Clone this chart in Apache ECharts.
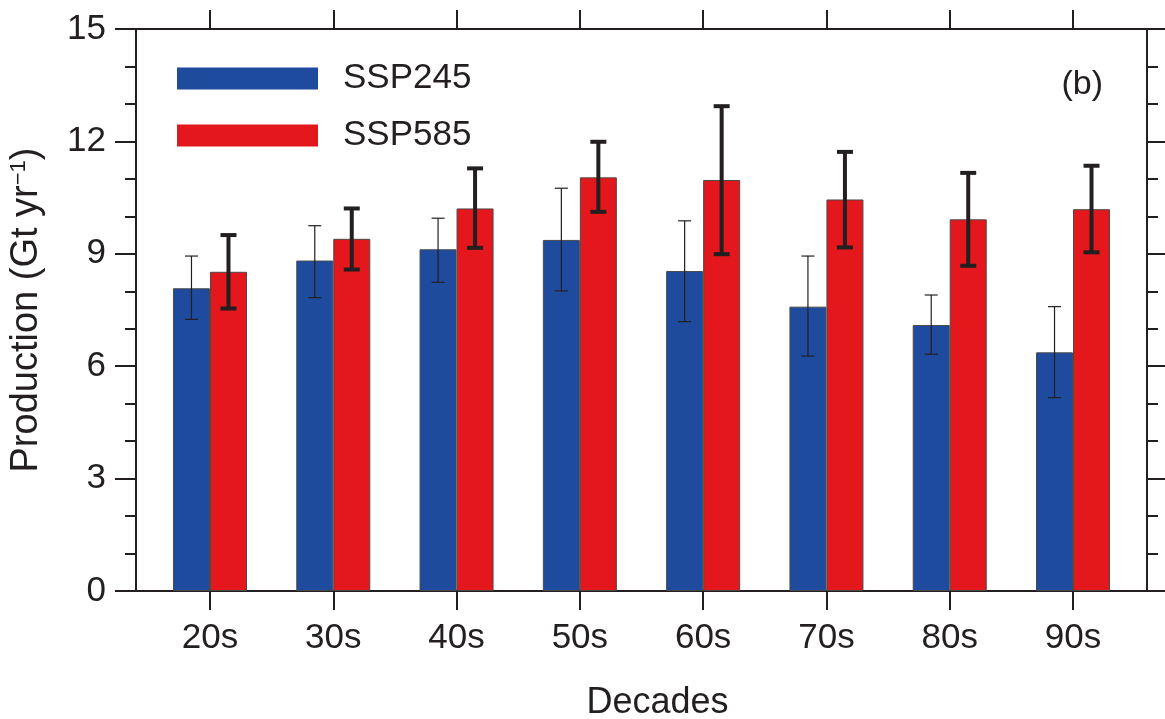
<!DOCTYPE html>
<html>
<head>
    <meta charset="utf-8">
    <title>Production by decade</title>
    <script src="https://cdn.jsdelivr.net/npm/echarts@6/dist/echarts.min.js"></script>
    <style>
        html, body { margin: 0; padding: 0; background: #fff; }
        #main { width: 1165px; height: 719px; }
    </style>
</head>
<body>
    <div id="main"></div>
    <script type="text/javascript">
        // data
        var decades = ['20s', '30s', '40s', '50s', '60s', '70s', '80s', '90s'];
        var ssp245 = [8.08, 8.82, 9.12, 9.37, 8.54, 7.59, 7.10, 6.37];
        var ssp245Low = [7.25, 7.83, 8.24, 8.01, 7.19, 6.27, 6.32, 5.16];
        var ssp245High = [8.94, 9.75, 9.95, 10.75, 9.88, 8.94, 7.90, 7.59];
        var ssp585 = [8.52, 9.40, 10.21, 11.04, 10.97, 10.45, 9.92, 10.19];
        var ssp585Low = [7.54, 8.58, 9.16, 10.12, 8.99, 9.17, 8.68, 9.04];
        var ssp585High = [9.50, 10.21, 11.28, 11.99, 12.94, 11.72, 11.16, 11.35];

        var positions = decades.map(function (d, i) { return i + 1; });
        var ink = '#231f20';
        var font = 'Liberation Sans, Arial, sans-serif';
        var barW = 37;

        function pairs(vals) {
            return vals.map(function (v, i) { return [positions[i], v]; });
        }
        function errData(low, high) {
            return low.map(function (l, i) { return [positions[i], l, high[i]]; });
        }
        function errRender(offset, lw, cap) {
            return function (params, api) {
                var top = api.coord([api.value(0), api.value(2)]);
                var bot = api.coord([api.value(0), api.value(1)]);
                var x = top[0] + offset;
                var st = { stroke: ink, lineWidth: lw };
                return {
                    type: 'group',
                    children: [
                        { type: 'line', shape: { x1: x, y1: top[1], x2: x, y2: bot[1] }, style: st },
                        { type: 'line', shape: { x1: x - cap / 2, y1: top[1], x2: x + cap / 2, y2: top[1] }, style: st },
                        { type: 'line', shape: { x1: x - cap / 2, y1: bot[1], x2: x + cap / 2, y2: bot[1] }, style: st }
                    ]
                };
            };
        }

        var xCommon = {
            type: 'value',
            min: 0.4,
            max: 8.6,
            splitLine: { show: false },
            axisLine: { show: true, onZero: false, lineStyle: { color: ink, width: 2 } },
            axisTick: { show: true, customValues: positions, length: 19, lineStyle: { color: ink, width: 2 } }
        };
        var yCommon = {
            type: 'value',
            min: 0,
            max: 15,
            interval: 3,
            splitLine: { show: false },
            axisLine: { show: true, onZero: false, lineStyle: { color: ink, width: 2 } },
            axisTick: { show: true, length: 21, lineStyle: { color: ink, width: 2 } },
            minorTick: { show: true, splitNumber: 3, length: 11, lineStyle: { color: ink, width: 2 } }
        };

        var myChart = echarts.init(document.getElementById('main'));

        var option = {
            backgroundColor: '#fff',
            animation: false,
            textStyle: { fontFamily: font, color: ink },
            grid: { left: 136, right: 18, top: 29, bottom: 128, outerBoundsMode: 'none', containLabel: false },
            title: {
                text: '(b)',
                right: 57,
                top: 63,
                textStyle: { fontFamily: font, fontSize: 34, fontWeight: 'normal', color: ink }
            },
            legend: {
                left: 172,
                top: 56,
                orient: 'vertical',
                itemWidth: 141,
                itemHeight: 22,
                itemGap: 22,
                icon: 'rect',
                data: ['SSP245', 'SSP585'],
                itemStyle: { borderWidth: 0 },
                textStyle: { fontFamily: font, fontSize: 35, color: ink, padding: [0, 0, 0, 20] }
            },
            xAxis: [
                echarts.util.merge({
                    position: 'bottom',
                    name: 'Decades',
                    nameLocation: 'middle',
                    nameGap: 94,
                    nameTextStyle: { fontFamily: font, fontSize: 36, color: ink, padding: [0, 0, 0, 32] },
                    axisLabel: {
                        customValues: positions,
                        margin: 30,
                        fontFamily: font,
                        fontSize: 35,
                        color: ink,
                        formatter: function (v) { return decades[Math.round(v) - 1]; }
                    }
                }, xCommon, true),
                echarts.util.merge({
                    position: 'top',
                    axisLabel: { show: false }
                }, xCommon, true)
            ],
            yAxis: [
                echarts.util.merge({
                    position: 'left',
                    name: 'Production (Gt yr{sup|−1})',
                    nameLocation: 'middle',
                    nameGap: 90,
                    nameTextStyle: {
                        fontFamily: font, fontSize: 38, color: ink,
                        rich: { sup: { fontFamily: font, fontSize: 22, color: ink, verticalAlign: 'top', padding: [0, 0, 16, 0] } }
                    },
                    axisLabel: { margin: 30, fontFamily: font, fontSize: 35, color: ink }
                }, yCommon, true),
                echarts.util.merge({
                    position: 'right',
                    axisLabel: { show: false }
                }, yCommon, true)
            ],
            series: [
                {
                    name: 'SSP245',
                    type: 'bar',
                    barWidth: barW,
                    barGap: '0%',
                    data: pairs(ssp245),
                    itemStyle: { color: '#1f4b9e', borderColor: '#4a4a4a', borderWidth: 1 }
                },
                {
                    name: 'SSP585',
                    type: 'bar',
                    barWidth: barW,
                    barGap: '0%',
                    data: pairs(ssp585),
                    itemStyle: { color: '#e3171c', borderColor: '#4a4a4a', borderWidth: 1 }
                },
                {
                    type: 'custom',
                    name: 'SSP245 range',
                    renderItem: errRender(-barW / 2, 1.2, 13),
                    data: errData(ssp245Low, ssp245High),
                    encode: { x: 0, y: [1, 2] },
                    z: 5,
                    silent: true
                },
                {
                    type: 'custom',
                    name: 'SSP585 range',
                    renderItem: errRender(barW / 2, 4, 16),
                    data: errData(ssp585Low, ssp585High),
                    encode: { x: 0, y: [1, 2] },
                    z: 5,
                    silent: true
                }
            ]
        };

        myChart.setOption(option);
    </script>
</body>
</html>
